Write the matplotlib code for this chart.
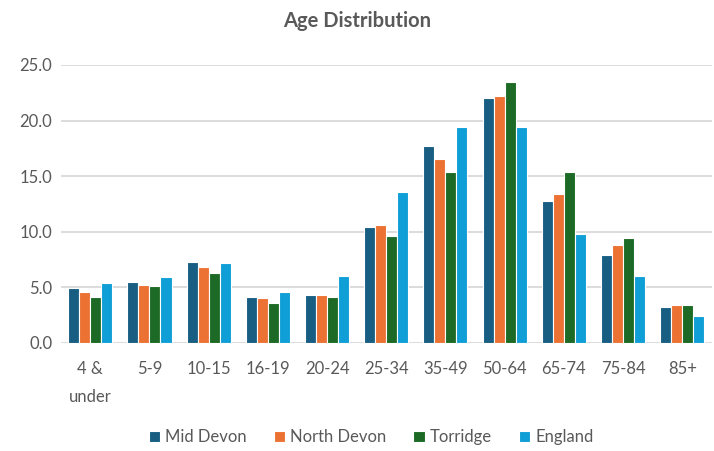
import numpy as np
import matplotlib
matplotlib.use("Agg")
import matplotlib.pyplot as plt

plt.rcParams["font.family"] = ["Lato", "DejaVu Sans"]

# ---- Data -------------------------------------------------------------------
age_groups = ["4 &\nunder", "5-9", "10-15", "16-19", "20-24", "25-34",
              "35-49", "50-64", "65-74", "75-84", "85+"]
mid_devon = [4.9, 5.5, 7.3, 4.1, 4.3, 10.4, 17.7, 22.0, 12.8, 7.9, 3.2]
north_devon = [4.6, 5.2, 6.8, 4.0, 4.3, 10.6, 16.5, 22.2, 13.4, 8.8, 3.4]
torridge = [4.1, 5.1, 6.3, 3.6, 4.1, 9.6, 15.4, 23.5, 15.4, 9.4, 3.4]
england = [5.4, 5.9, 7.2, 4.6, 6.0, 13.6, 19.4, 19.4, 9.8, 6.0, 2.4]

series = [
    ("Mid Devon", mid_devon, "#175E82"),
    ("North Devon", north_devon, "#EC7234"),
    ("Torridge", torridge, "#1C6A25"),
    ("England", england, "#0F9ED6"),
]

text_col = "#595959"

fig = plt.figure(figsize=(7.14, 4.51), dpi=100)
ax = fig.add_axes([0.085, 0.24, 0.912, 0.616])

x = np.arange(len(age_groups))
width = 0.186
for i, (name, vals, col) in enumerate(series):
    offset = (i - 1.5) * width
    ax.bar(x + offset, vals, width, color=col, edgecolor="white",
           linewidth=0.8, label=name, zorder=3)

ax.set_xlim(-0.5, len(age_groups) - 0.5)
ax.set_ylim(0, 25)
ax.set_yticks(np.arange(0, 26, 5))
ax.set_yticklabels([f"{v:.1f}" for v in np.arange(0, 26, 5)])
ax.set_xticks(x)
ax.set_xticklabels(age_groups, linespacing=1.9)

ax.grid(axis="y", color="#D9D9D9", linewidth=1.3, zorder=0)
for s in ax.spines.values():
    s.set_visible(False)
ax.tick_params(axis="both", length=0, colors=text_col, labelsize=12)
ax.tick_params(axis="x", pad=13)
ax.tick_params(axis="y", pad=6)

fig.suptitle("Age Distribution", x=0.5, y=0.975, fontsize=14.5,
             fontweight="bold", color=text_col)

leg = fig.legend(loc="center", bbox_to_anchor=(0.52, 0.03), ncol=4,
                 frameon=False, fontsize=12, handlelength=0.7,
                 handleheight=0.7, handletextpad=0.3, columnspacing=1.6)
for t in leg.get_texts():
    t.set_color(text_col)

fig.savefig("out.png", dpi=100)
